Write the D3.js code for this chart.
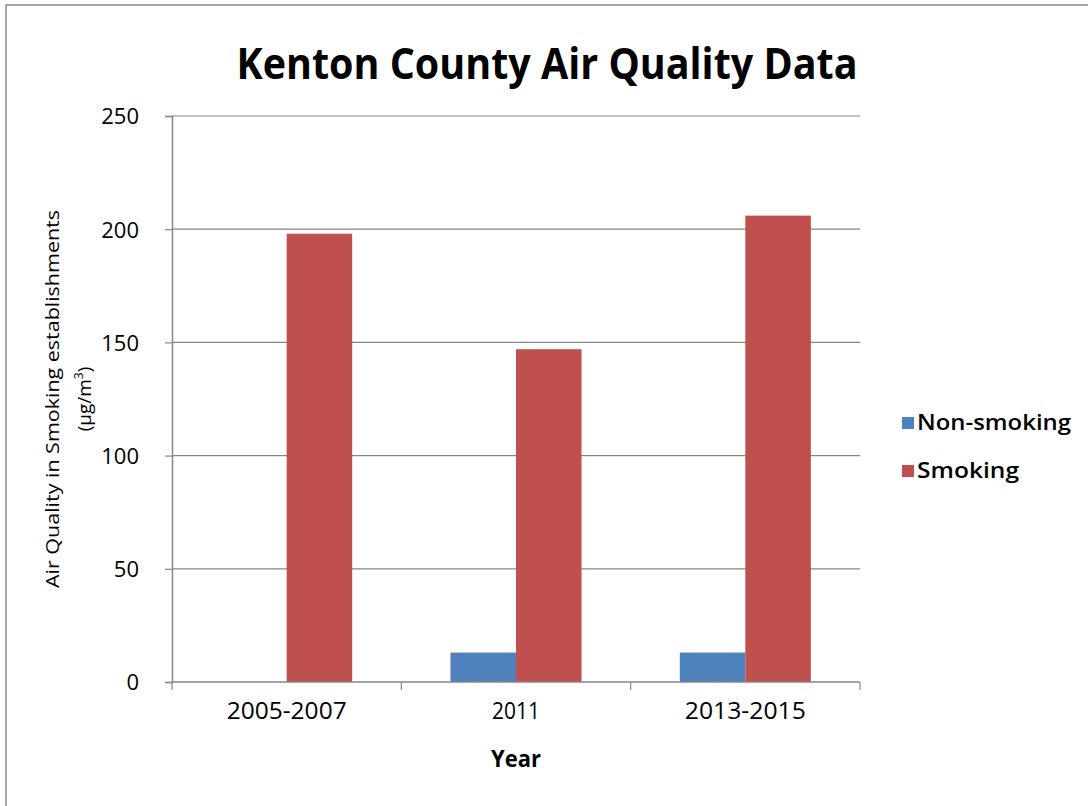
<!DOCTYPE html>
<html>
<head>
<meta charset="utf-8">
<script src="https://cdn.jsdelivr.net/npm/d3@7"></script>
<style>
  html, body { margin: 0; padding: 0; background: #fff; }
  svg { display: block; }
  text { font-family: "Open Sans", "Liberation Sans", sans-serif; fill: #000; }
</style>
</head>
<body>
<svg id="chart" width="1088" height="806"></svg>
<script>
// Air quality measurements (µg/m³) by period
const categories = ["2005-2007", "2011", "2013-2015"];
const seriesNames = ["Non-smoking", "Smoking"];
const nonSmoking = [0, 13, 13];
const smoking = [198, 147, 206];
const yTicks = [0, 50, 100, 150, 200, 250];
const seriesColors = ["#4F81BD", "#C0504D"];

const svg = d3.select("#chart");
const W = 1088, H = 806;
const plot = { left: 172, right: 860, top: 116, bottom: 682 };

// outer frame (left and top edges visible)
svg.append("path")
  .attr("d", `M6,${H + 5} V5 H${W + 5}`)
  .attr("fill", "none").attr("stroke", "#8c8c8c").attr("stroke-width", 1.5);

const x0 = d3.scaleBand().domain(categories).range([plot.left, plot.right]).paddingInner(0).paddingOuter(0);
const y = d3.scaleLinear().domain([0, 250]).range([plot.bottom, plot.top]);

// gridlines
svg.append("g").selectAll("line").data(yTicks.filter(d => d > 0)).join("line")
  .attr("x1", plot.left).attr("x2", plot.right)
  .attr("y1", d => y(d)).attr("y2", d => y(d))
  .attr("stroke", "#868686").attr("stroke-width", 1.2);

// bars: two bars per group with a 150% gap width
const rows = categories.map((c, i) => ({ c, vals: [nonSmoking[i], smoking[i]] }));
const barW = x0.bandwidth() / 3.5;
svg.append("g").selectAll("g").data(rows).join("g")
  .attr("transform", d => `translate(${x0(d.c)},0)`)
  .selectAll("rect").data(d => d.vals.map((v, k) => ({ v, k }))).join("rect")
  .attr("x", d => barW * 0.75 + d.k * barW)
  .attr("width", barW)
  .attr("y", d => y(d.v))
  .attr("height", d => y(0) - y(d.v))
  .attr("fill", d => seriesColors[d.k]);

// y axis
const yAxis = d3.axisLeft(y).tickValues(yTicks).tickSize(7).tickPadding(26);
const gy = svg.append("g").attr("transform", `translate(${plot.left},0)`).call(yAxis);
gy.select(".domain").attr("stroke", "#868686").attr("stroke-width", 1.5);
gy.selectAll(".tick line").attr("stroke", "#868686").attr("stroke-width", 1.2);
gy.selectAll(".tick text")
  .style("font-size", "22px").style("font-family", "Open Sans").style("font-weight", "500")
  .attr("fill", "#000").attr("dy", "0.36em");

// x axis with ticks at category boundaries
const gx = svg.append("g").attr("transform", `translate(0,${plot.bottom})`);
gx.append("line").attr("x1", plot.left).attr("x2", plot.right).attr("y1", 0).attr("y2", 0)
  .attr("stroke", "#868686").attr("stroke-width", 1.5);
const bounds = categories.map(c => x0(c)).concat([plot.right]);
gx.selectAll("line.tk").data(bounds).join("line").attr("class", "tk")
  .attr("x1", d => d).attr("x2", d => d).attr("y1", 0).attr("y2", 8)
  .attr("stroke", "#868686").attr("stroke-width", 1.2);
const xLabelWidths = { "2005-2007": 120, "2011": 48, "2013-2015": 121 };
gx.selectAll("text").data(categories).join("text")
  .attr("x", d => x0(d) + x0.bandwidth() / 2)
  .attr("y", 37)
  .attr("text-anchor", "middle")
  .style("font-size", "23px").style("font-weight", "500")
  .attr("textLength", d => xLabelWidths[d])
  .attr("lengthAdjust", "spacingAndGlyphs")
  .text(d => d);

// title
svg.append("text").attr("x", 547).attr("y", 79).attr("text-anchor", "middle")
  .style("font-size", "43px").style("font-weight", "700")
  .attr("textLength", 621).attr("lengthAdjust", "spacingAndGlyphs")
  .text("Kenton County Air Quality Data");

// x axis title
svg.append("text").attr("x", 516).attr("y", 767).attr("text-anchor", "middle")
  .style("font-size", "23px").style("font-weight", "700")
  .attr("textLength", 50).attr("lengthAdjust", "spacingAndGlyphs")
  .text("Year");

// y axis title, two lines
const cy = (plot.top + plot.bottom) / 2;
const yt = svg.append("g").attr("transform", `translate(0,${cy}) rotate(-90)`);
yt.append("text").attr("x", 0).attr("y", 59).attr("text-anchor", "middle")
  .style("font-size", "19px").style("font-weight", "500")
  .attr("textLength", 378).attr("lengthAdjust", "spacingAndGlyphs")
  .text("Air Quality in Smoking establishments");
const l2 = yt.append("text").attr("x", 0).attr("y", 91).attr("text-anchor", "middle")
  .style("font-size", "19px").style("font-weight", "500");
l2.append("tspan").text("(µg/m");
l2.append("tspan").style("font-size", "12px").attr("dy", -8).text("3");
l2.append("tspan").attr("dy", 8).text(")");

// legend
const leg = svg.append("g").selectAll("g").data(seriesNames).join("g")
  .attr("transform", (d, i) => `translate(902,${417 + i * 48})`);
leg.append("rect").attr("width", 12).attr("height", 12).attr("fill", (d, i) => seriesColors[i]);
leg.append("text").attr("x", 15).attr("y", 13)
  .style("font-size", "22px").style("font-weight", "600")
  .attr("textLength", (d, i) => i === 0 ? 154 : 102).attr("lengthAdjust", "spacingAndGlyphs")
  .text(d => d);
</script>
</body>
</html>
